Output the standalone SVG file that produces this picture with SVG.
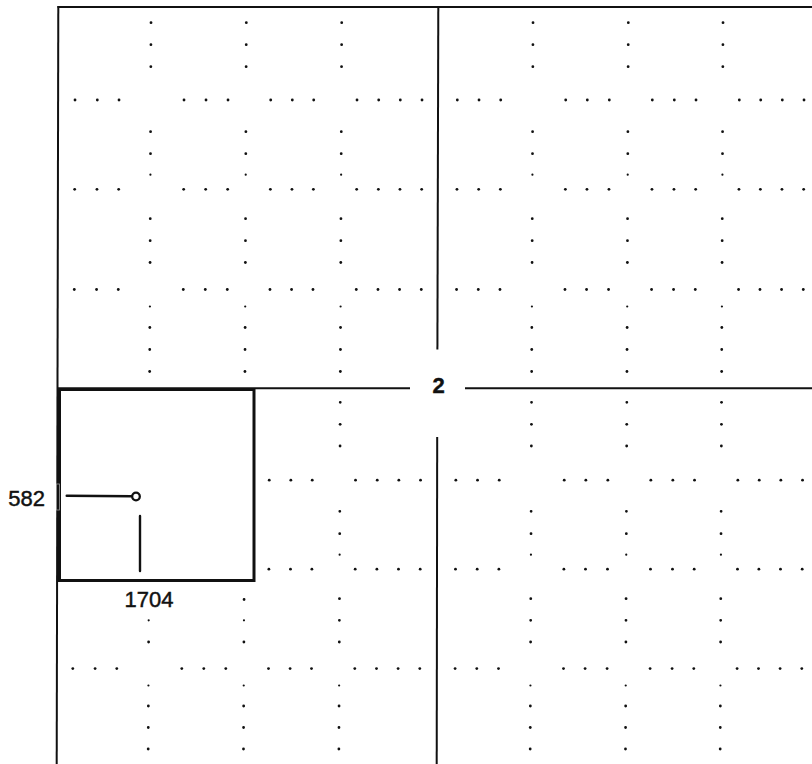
<svg xmlns="http://www.w3.org/2000/svg" xmlns:xlink="http://www.w3.org/1999/xlink" width="812" height="764" viewBox="0 0 812 764">
<style>
.d{fill:#111}
.ln{stroke:#111;fill:none;stroke-width:2}
.bx{stroke:#111;fill:none;stroke-width:3}
.w{stroke:#111;fill:none;stroke-width:2.4;stroke-linecap:round}
.t{font-family:"Liberation Sans",Arial,sans-serif;fill:#111;stroke:#111;stroke-width:0.45;font-size:22px}
</style>
<defs>
<g id="colA">
<circle class="d" cx="0" cy="22.7" r="1.4"/><circle class="d" cx="0" cy="44.7" r="1.4"/><circle class="d" cx="0" cy="66.7" r="1.4"/>
<circle class="d" cx="0" cy="131.7" r="1.4"/><circle class="d" cx="0" cy="153.7" r="1.4"/><circle class="d" cx="0" cy="174.7" r="1.1"/>
<circle class="d" cx="0" cy="218.7" r="1.4"/><circle class="d" cx="0" cy="240.7" r="1.4"/><circle class="d" cx="0" cy="262.5" r="1.4"/>
<circle class="d" cx="0" cy="306.5" r="1.1"/><circle class="d" cx="0" cy="327.5" r="1.4"/><circle class="d" cx="0" cy="349.5" r="1.4"/><circle class="d" cx="0" cy="371.5" r="1.4"/>
<circle class="d" cx="0" cy="402.3" r="1.4"/><circle class="d" cx="0" cy="424.3" r="1.4"/><circle class="d" cx="0" cy="446" r="1.4"/>
<circle class="d" cx="0" cy="511.3" r="1.4"/><circle class="d" cx="0" cy="533.7" r="1.4"/><circle class="d" cx="0" cy="554.7" r="1.1"/>
<circle class="d" cx="0" cy="598.7" r="1.4"/><circle class="d" cx="0" cy="620.3" r="1.4"/><circle class="d" cx="0" cy="642" r="1.4"/>
<circle class="d" cx="0" cy="685.5" r="1.1"/><circle class="d" cx="0" cy="706" r="1.4"/><circle class="d" cx="0" cy="727.5" r="1.4"/><circle class="d" cx="0" cy="749" r="1.4"/>
</g>
<g id="colB">
<circle class="d" cx="0" cy="22.7" r="1.4"/><circle class="d" cx="0" cy="44.7" r="1.4"/><circle class="d" cx="0" cy="66.7" r="1.4"/>
<circle class="d" cx="0" cy="131.7" r="1.4"/><circle class="d" cx="0" cy="153.7" r="1.4"/><circle class="d" cx="0" cy="174.7" r="1.1"/>
<circle class="d" cx="0" cy="218.7" r="1.4"/><circle class="d" cx="0" cy="240.7" r="1.4"/><circle class="d" cx="0" cy="262.5" r="1.4"/>
<circle class="d" cx="0" cy="306.5" r="1.1"/><circle class="d" cx="0" cy="327.5" r="1.4"/><circle class="d" cx="0" cy="349.5" r="1.4"/><circle class="d" cx="0" cy="371.5" r="1.4"/>
<circle class="d" cx="0" cy="620.3" r="1.1"/><circle class="d" cx="0" cy="642" r="1.4"/>
<circle class="d" cx="0" cy="685.5" r="1.1"/><circle class="d" cx="0" cy="706" r="1.4"/><circle class="d" cx="0" cy="727.5" r="1.4"/><circle class="d" cx="0" cy="749" r="1.4"/>
</g>
<g id="rowL">
<circle class="d" cx="75.4" cy="0" r="1.4"/><circle class="d" cx="97.7" cy="0" r="1.4"/><circle class="d" cx="119.4" cy="0" r="1.4"/>
<circle class="d" cx="184.4" cy="0" r="1.4"/><circle class="d" cx="206.4" cy="0" r="1.4"/><circle class="d" cx="228.4" cy="0" r="1.4"/>
</g>
<g id="rowR">
<circle class="d" cx="271.1" cy="0" r="1.4"/><circle class="d" cx="292.7" cy="0" r="1.4"/><circle class="d" cx="314.1" cy="0" r="1.4"/>
<circle class="d" cx="357.4" cy="0" r="1.4"/><circle class="d" cx="379.1" cy="0" r="1.4"/><circle class="d" cx="400.7" cy="0" r="1.4"/><circle class="d" cx="422.4" cy="0" r="1.4"/>
<circle class="d" cx="457.7" cy="0" r="1.4"/><circle class="d" cx="479.4" cy="0" r="1.4"/><circle class="d" cx="501.1" cy="0" r="1.4"/>
<circle class="d" cx="566.1" cy="0" r="1.4"/><circle class="d" cx="587.7" cy="0" r="1.4"/><circle class="d" cx="609.7" cy="0" r="1.4"/>
<circle class="d" cx="652.7" cy="0" r="1.4"/><circle class="d" cx="674.7" cy="0" r="1.4"/><circle class="d" cx="696.4" cy="0" r="1.4"/>
<circle class="d" cx="739.7" cy="0" r="1.4"/><circle class="d" cx="761.1" cy="0" r="1.4"/><circle class="d" cx="782.7" cy="0" r="1.4"/><circle class="d" cx="804.4" cy="0" r="1.4"/>
</g>
</defs>
<rect width="812" height="764" fill="#fff"/>
<g id="grid" transform="skewX(-0.223)">
<use xlink:href="#colB" x="151.1"/>
<use xlink:href="#colB" x="246.4"/>
<circle class="d" cx="246.4" cy="599.5" r="1.4"/>
<use xlink:href="#colA" x="341.8"/>
<use xlink:href="#colA" x="533.1"/>
<use xlink:href="#colA" x="628.4"/>
<use xlink:href="#colA" x="723.1"/>
<use xlink:href="#rowL" y="100"/><use xlink:href="#rowR" y="100"/>
<use xlink:href="#rowL" y="189.3"/><use xlink:href="#rowR" y="189.3"/>
<use xlink:href="#rowL" y="289.5"/><use xlink:href="#rowR" y="289.5"/>
<use xlink:href="#rowR" y="480.2"/>
<use xlink:href="#rowR" y="569.2"/>
<use xlink:href="#rowL" y="668.6"/><use xlink:href="#rowR" y="668.6"/>
</g>
<g id="frame">
<line class="ln" x1="57.5" y1="7" x2="812" y2="7"/>
<line class="ln" x1="58.3" y1="6" x2="56.7" y2="764"/>
<line class="ln" x1="438.3" y1="6" x2="437.4" y2="349.5"/>
<line class="ln" x1="437.2" y1="437" x2="436.7" y2="764"/>
<line class="ln" x1="58" y1="388.2" x2="410" y2="388.2"/>
<line class="ln" x1="465" y1="388.2" x2="812" y2="388.2"/>
</g>
<g id="label-2">
<text class="t" x="438.6" y="393" text-anchor="middle" font-weight="bold" font-size="24">2</text>
</g>
<g id="box">
<rect class="bx" x="59.5" y="389.5" width="194.5" height="191"/>
<rect x="56.5" y="484" width="3" height="26" fill="none" stroke="#999" stroke-width="0.8"/>
</g>
<g id="label-582">
<text class="t" x="45" y="505.5" text-anchor="end">582</text>
</g>
<g id="label-1704">
<text class="t" x="149" y="607.3" text-anchor="middle" font-size="23">1704</text>
</g>
<g id="connectors">
<line class="w" x1="66.7" y1="495.8" x2="132" y2="496.3"/>
<circle cx="136" cy="496.5" r="3.8" fill="#fff" stroke="#111" stroke-width="2.3"/>
<line class="w" x1="140" y1="516" x2="140" y2="571" stroke-width="2.6"/>
</g>
</svg>
